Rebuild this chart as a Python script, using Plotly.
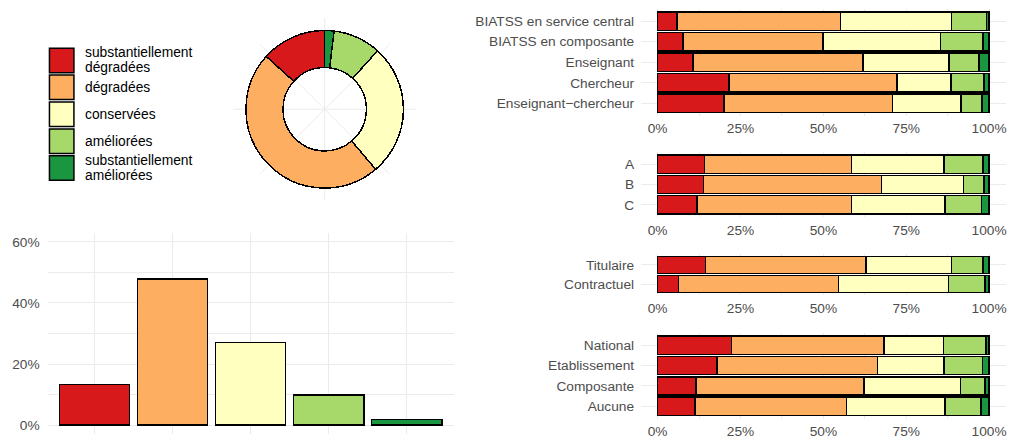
import plotly.graph_objects as go

# ---------------- data ----------------
levels = ["substantiellement dégradées", "dégradées", "conservées",
          "améliorées", "substantiellement améliorées"]
legend_labels = ["substantiellement\ndégradées", "dégradées", "conservées",
                 "améliorées", "substantiellement\naméliorées"]
colors = ["#d7191c", "#fdae61", "#ffffbf", "#a6d96a", "#1a9641"]

overall = [13.3, 47.9, 27.1, 9.8, 1.9]   # % of answers per level

statut_cats = ["BIATSS en service central", "BIATSS en composante", "Enseignant",
               "Chercheur", "Enseignant−chercheur"]
statut_values = [
    [5.9, 49.3, 33.5, 10.5, 0.8],
    [7.6, 42.3, 35.5, 12.8, 1.8],
    [10.7, 51.3, 25.9, 9.1, 3.0],
    [21.5, 50.7, 16.3, 10.0, 1.5],
    [20.0, 50.8, 20.7, 6.3, 2.2],
]

groupe_cats = ["A", "B", "C"]
groupe_values = [
    [14.2, 44.3, 27.9, 11.8, 1.8],
    [13.9, 53.6, 24.7, 6.3, 1.5],
    [11.8, 46.7, 28.2, 11.0, 2.3],
]

contrat_cats = ["Titulaire", "Contractuel"]
contrat_values = [
    [14.5, 48.3, 25.9, 9.5, 1.8],
    [6.3, 48.2, 33.2, 11.1, 1.2],
]

resp_cats = ["National", "Etablissement", "Composante", "Aucune"]
resp_values = [
    [22.3, 46.0, 17.9, 12.8, 1.0],
    [17.9, 48.4, 20.1, 11.6, 2.0],
    [11.5, 50.7, 29.1, 7.4, 1.3],
    [11.2, 45.7, 29.8, 10.9, 2.4],
]

# ---------------- layout helpers ----------------
W, H = 1009, 439
FONT = "Liberation Sans, Arial, sans-serif"
GRID = "#ebebeb"
AXTXT = "#4d4d4d"
FS = 13.7


def fx(p):
    return p / W


def fy(p):
    return 1 - p / H


fig = go.Figure()

# ---------------- bar chart (overall) ----------------
fig.add_trace(go.Bar(
    x=levels, y=overall, width=0.9,
    marker=dict(color=colors, line=dict(color="black", width=1.5)),
    xaxis="x", yaxis="y", showlegend=False, hoverinfo="x+y"))

# ---------------- donut ----------------
hole_r, ring = 42.0, 37.3
starts = []
acc = 0.0
for v in overall:
    starts.append(acc)
    acc += v
theta = [(s + v / 2) * 3.6 for s, v in zip(starts, overall)]
widths = [v * 3.6 for v in overall]
fig.add_trace(go.Barpolar(
    r=[ring] * len(overall), base=[hole_r] * len(overall),
    theta=theta, width=widths,
    marker=dict(color=colors, line=dict(color="black", width=1.5)),
    subplot="polar", showlegend=False, hovertext=levels, hoverinfo="text"))

# ---------------- stacked panels ----------------
panels = [
    (statut_cats, statut_values, (8.9, 116.4)),
    (groupe_cats, groupe_values, (153.0, 218.6)),
    (contrat_cats, contrat_values, (255.3, 297.5)),
    (resp_cats, resp_values, (335.1, 421.6)),
]

layout_axes = {}
for i, (cats, vals, (top, bot)) in enumerate(panels):
    k = i + 2
    for j, lev in enumerate(levels):
        fig.add_trace(go.Bar(
            y=cats, x=[row[j] for row in vals], orientation="h", width=0.9,
            marker=dict(color=colors[j], line=dict(color="black", width=1.5)),
            xaxis=f"x{k}", yaxis=f"y{k}", showlegend=False, name=lev))
    n = len(cats)
    layout_axes[f"xaxis{k}"] = dict(
        domain=[fx(641.7), fx(1006.7)], range=[-5, 105], anchor=f"y{k}",
        tick0=0, dtick=25, ticksuffix="%", showgrid=True, gridcolor=GRID,
        gridwidth=1.1, zeroline=False, showline=False, ticks="",
        ticklabelstandoff=3,
        minor=dict(dtick=12.5, tick0=0, showgrid=True, gridcolor=GRID, gridwidth=0.55),
        tickfont=dict(size=FS, color=AXTXT, family=FONT))
    layout_axes[f"yaxis{k}"] = dict(
        domain=[fy(bot), fy(top)], type="category", categoryorder="array",
        categoryarray=cats, range=[n - 0.4, -0.6], anchor=f"x{k}",
        showgrid=True, gridcolor=GRID, gridwidth=1.1, zeroline=False,
        showline=False, ticks="", ticklabelstandoff=6,
        tickfont=dict(size=FS, color=AXTXT, family=FONT))

# ---------------- legend (drawn) ----------------
shapes = []
annotations = []
key_top, key_h = 47.3, 27.1
for idx, (lab, col) in enumerate(zip(legend_labels, colors)):
    t = key_top + idx * key_h
    shapes.append(dict(type="rect", xref="paper", yref="paper",
                       x0=fx(49.5), x1=fx(74), y0=fy(t + key_h - 1.2), y1=fy(t + 1.2),
                       fillcolor=col, line=dict(color="black", width=1.5)))
    lines = lab.split("\n")
    c = t + key_h / 2
    for li, txt in enumerate(lines):
        yy = c - (len(lines) - 1) * 7.5 + li * 15
        annotations.append(dict(text=txt, x=fx(83), y=fy(yy), xref="paper", yref="paper",
                                xanchor="left", yanchor="middle", showarrow=False,
                                font=dict(size=13.8, color="black", family=FONT)))

fig.update_layout(
    width=W, height=H, margin=dict(l=0, r=0, t=0, b=0),
    paper_bgcolor="white", plot_bgcolor="white",
    font=dict(family=FONT, size=FS, color=AXTXT),
    barmode="stack", bargap=0.1, showlegend=False,
    xaxis=dict(domain=[fx(47.7), fx(454)], type="category", range=[-0.6, 4.6],
               showticklabels=False, showgrid=True, gridcolor=GRID, gridwidth=1.1,
               zeroline=False, showline=False, ticks="", anchor="y"),
    yaxis=dict(domain=[fy(437.3), fy(234.3)], range=[-3, 63], tick0=0, dtick=20,
               ticksuffix="%", showgrid=True, gridcolor=GRID, gridwidth=1.1,
               zeroline=False, showline=False, ticks="", ticklabelstandoff=7,
               minor=dict(dtick=10, tick0=0, showgrid=True, gridcolor=GRID, gridwidth=0.55),
               tickfont=dict(size=FS, color=AXTXT, family=FONT), anchor="x"),
    polar=dict(
        domain=dict(x=[fx(233.5), fx(416.5)], y=[fy(201.5), fy(18.5)]),
        bgcolor="white", hole=0,
        radialaxis=dict(range=[0, 91.5], visible=False),
        angularaxis=dict(rotation=90, direction="counterclockwise", dtick=45,
                         showgrid=True, gridcolor=GRID, gridwidth=1.1,
                         showticklabels=False, ticks="", showline=False),
    ),
    shapes=shapes, annotations=annotations,
    **layout_axes,
)

fig.write_html("out.html",
               config={"displayModeBar": False},
               post_script="document.body.style.margin='0';document.body.style.padding='0';"
                           "document.body.style.overflow='hidden';")
